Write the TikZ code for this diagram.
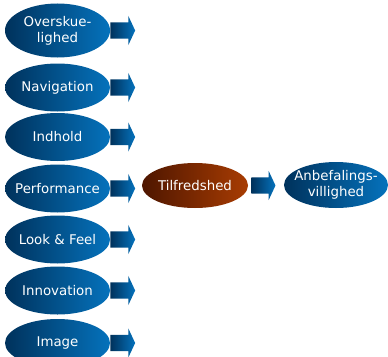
\documentclass[tikz,border=0pt]{standalone}
\usepackage{fontspec}
\setmainfont{DejaVu Sans}
\usetikzlibrary{shapes.geometric,shapes.arrows,positioning}

\definecolor{bluedark}{RGB}{0,50,92}
\definecolor{bluelight}{RGB}{5,114,188}
\definecolor{browndark}{RGB}{78,22,0}
\definecolor{brownlight}{RGB}{168,60,2}

\tikzset{
  driver/.style={ellipse, inner sep=0pt, minimum width=3.15cm, minimum height=1.44cm,
    left color=bluedark, right color=bluelight},
  result/.style={driver, left color=browndark, right color=brownlight},
  caption/.style={text=white, align=center, inner sep=0pt,
    font=\fontsize{11.4}{13.6}\selectfont},
  blockarrow/.style={single arrow, draw=none, inner sep=0.235cm, minimum height=0.74cm,
    single arrow head extend=0.2cm, single arrow tip angle=130,
    left color=bluedark, right color=bluelight}
}

\begin{document}
\begin{tikzpicture}
\useasboundingbox (0,0) rectangle (11.64,-10.68);

% Left column of drivers, each with its block arrow
\foreach \nm/\y/\h/\txt in {overskue/-0.915/1.62/{Overskue-\\lighed},
                            navigation/-2.625/1.44/Navigation,
                            indhold/-4.11/1.44/Indhold,
                            performance/-5.655/1.44/Performance,
                            lookfeel/-7.185/1.44/Look \& Feel,
                            innovation/-8.715/1.44/Innovation,
                            image/-10.29/1.44/Image} {
  \node[driver, minimum height=\h cm, label={[caption]center:\txt}] (\nm) at (1.725,\y) {};
  \node[blockarrow, right=0pt of \nm] (\nm-arrow) {};
}

% Satisfaction and recommendation
\node[result, minimum width=3.18cm, minimum height=1.35cm,
  label={[caption]center:Tilfredshed}] (tilfredshed) at (5.85,-5.565) {};
\node[blockarrow, minimum height=0.72cm, right=0.09cm of tilfredshed] (tilf-arrow) {};
\node[driver, minimum width=3.12cm, minimum height=1.38cm,
  label={[caption]center:Anbefalings-\\villighed}] (anbefaling) at (10.08,-5.55) {};

\end{tikzpicture}
\end{document}
